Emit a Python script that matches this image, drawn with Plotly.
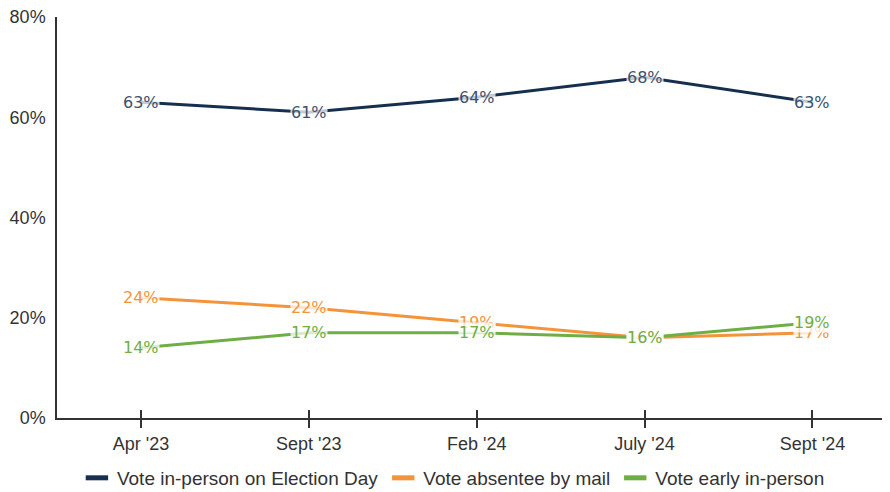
import plotly.graph_objects as go

categories = ["Apr '23", "Sept '23", "Feb '24", "July '24", "Sept '24"]
election_day = [63, 61, 64, 68, 63]
absentee_mail = [24, 22, 19, 16, 17]
early_in_person = [14, 17, 17, 16, 19]
y_ticks = [0, 20, 40, 60, 80]
y_tick_labels = ["0%", "20%", "40%", "60%", "80%"]

series = [
    ("Vote in-person on Election Day", election_day, "#172F4E", "#3A5170"),
    ("Vote absentee by mail", absentee_mail, "#F4943A", "#F4943A"),
    ("Vote early in-person", early_in_person, "#6FAE45", "#6FAE45"),
]

fig = go.Figure()
annotations = []
for name, vals, color, tcolor in series:
    fig.add_trace(go.Scatter(
        x=categories, y=vals, name=name, mode="lines",
        line=dict(color=color, width=3), showlegend=False,
    ))
    for c, v in zip(categories, vals):
        annotations.append(dict(
            x=c, y=v, xref="x", yref="y", text=f"{v}%", showarrow=False,
            font=dict(family="DejaVu Sans, Open Sans, sans-serif", size=16, color=tcolor),
            bgcolor="rgba(255,255,255,0.75)", borderpad=0,
        ))

# legend-only entries with bar-like symbols
for name, vals, color, tcolor in series:
    fig.add_trace(go.Scatter(
        x=[None], y=[None], name=name, mode="markers",
        marker=dict(symbol="line-ew", size=16, color=color,
                    line=dict(color=color, width=5)),
        showlegend=True, hoverinfo="skip",
    ))

# helper trace on overlay axis for inside ticks
fig.add_trace(go.Scatter(x=categories, y=[None]*len(categories), xaxis="x2",
                         showlegend=False, hoverinfo="skip"))

fig.update_layout(
    width=882, height=484,
    margin=dict(l=49, r=2, t=9, b=74, autoexpand=False),
    plot_bgcolor="white", paper_bgcolor="white",
    font=dict(family="Liberation Sans, Arial, sans-serif", size=18, color="#333333"),
    showlegend=True,
    legend=dict(orientation="h", x=0.505, xanchor="center", xref="container",
                y=0.029, yanchor="middle", yref="container",
                font=dict(size=19, color="#333333"), itemwidth=30, tracegroupgap=0),
    annotations=annotations,
    xaxis=dict(
        type="category", range=[-0.5, 4.45], showgrid=False, showline=True,
        linecolor="#333333", linewidth=2, ticks="outside", ticklen=8, tickwidth=1.5,
        tickcolor="#333333", tickfont=dict(size=18, color="#333333"), zeroline=False,
        automargin=False,
    ),
    xaxis2=dict(
        type="category", overlaying="x", matches="x", showgrid=False, showline=False,
        ticks="inside", ticklen=8, tickwidth=1.5, tickcolor="#333333",
        showticklabels=False, side="bottom", anchor="y", automargin=False,
    ),
    yaxis=dict(
        range=[0, 80], tickvals=y_ticks, ticktext=y_tick_labels, showgrid=False,
        showline=True, linecolor="#333333", linewidth=1.5, ticks="", zeroline=False,
        tickfont=dict(size=18, color="#333333"), ticklabelstandoff=6, automargin=False,
        ticklabeloverflow="allow",
    ),
)

fig.write_html("out.html")
